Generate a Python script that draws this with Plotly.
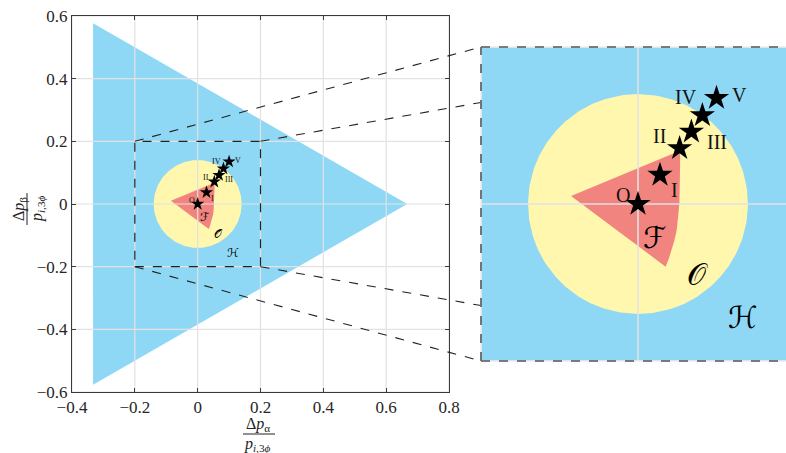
import numpy as np
import plotly.graph_objects as go

W, H = 786, 453

# Region H: the triangle of admissible perturbations
hex_x = [-0.333, -0.333, 0.667]
hex_y = [0.577, -0.577, 0.0]

# Region O: disc around the origin
disc_cx, disc_cy = 0.0, 0.0
disc_r = 0.14

# Region F: apex followed by the curved right-hand boundary
f_x = [-0.0853, 0.0535, 0.0537, 0.0535, 0.0527, 0.0510, 0.0493, 0.0465, 0.0429, 0.0393, 0.0352]
f_y = [0.0102, 0.0679, 0.0530, 0.0390, 0.0009, -0.0170, -0.0331, -0.0460, -0.0586, -0.0695, -0.0798]

# Operating points
pt_names = ["O", "I", "II", "III", "IV", "V"]
pt_x = [0.0, 0.028, 0.053, 0.068, 0.082, 0.100]
pt_y = [0.0, 0.037, 0.071, 0.092, 0.113, 0.135]

# Axis ticks
x_ticks = [-0.4, -0.2, 0.0, 0.2, 0.4, 0.6, 0.8]
x_ticktext = ["\u22120.4", "\u22120.2", "0", "0.2", "0.4", "0.6", "0.8"]
y_ticks = [-0.6, -0.4, -0.2, 0.0, 0.2, 0.4, 0.6]
y_ticktext = ["\u22120.6", "\u22120.4", "\u22120.2", "0", "0.2", "0.4", "0.6"]

# Zoom window
zoom_x = [-0.2, 0.2]
zoom_y = [-0.2, 0.2]

# Region labels (script letters) and where they sit
region_names = ["\u2131", "\U0001D4AA", "\u210B"]
region_main_x = [0.022, 0.066, 0.114]
region_main_y = [-0.040, -0.096, -0.157]
region_zoom_x = [0.022, 0.076, 0.134]
region_zoom_y = [-0.043, -0.090, -0.144]

BLUE = "#8ED8F6"
YELLOW = "#FFF7AE"
RED = "#F2847F"
GRID = "#E2E2E2"
AXC = "#3A3A3A"
SERIF = "Liberation Serif"
SCRIPT = "DejaVu Sans"

# ---- pixel layout of the two panels ----
main_px = dict(x0=72, x1=449, y0=16, y1=392)
zoom_px = dict(x0=481, y0=47, y1=361)


def dom_x(a, b):
    return [a / W, b / W]


def dom_y(top, bottom):
    return [(H - bottom) / H, (H - top) / H]


main_xr = [x_ticks[0], x_ticks[-1]]
main_yr = [y_ticks[0], y_ticks[-1]]
# zoom panel keeps equal scaling; it runs past the right edge of the figure
zoom_scale = (zoom_px["y1"] - zoom_px["y0"]) / (zoom_y[1] - zoom_y[0])
zoom_xr = [zoom_x[0], zoom_x[0] + (W - zoom_px["x0"]) / zoom_scale]

fig = go.Figure()

theta = np.linspace(0, 2 * np.pi, 241)
circ_x = disc_cx + disc_r * np.cos(theta)
circ_y = disc_cy + disc_r * np.sin(theta)

for xa, ya, gw, msize in [("x", "y", 1.2, 10), ("x2", "y2", 1.6, 19)]:
    fig.add_trace(go.Scatter(x=hex_x + [hex_x[0]], y=hex_y + [hex_y[0]], fill="toself",
                             fillcolor=BLUE, line=dict(width=0), mode="lines",
                             hoverinfo="skip", showlegend=False, xaxis=xa, yaxis=ya))
    fig.add_trace(go.Scatter(x=circ_x, y=circ_y, fill="toself", fillcolor=YELLOW,
                             line=dict(width=0), mode="lines", hoverinfo="skip",
                             showlegend=False, xaxis=xa, yaxis=ya))
    fig.add_trace(go.Scatter(x=f_x + [f_x[0]], y=f_y + [f_y[0]], fill="toself", fillcolor=RED,
                             line=dict(width=0), mode="lines", hoverinfo="skip",
                             showlegend=False, xaxis=xa, yaxis=ya))
    # grid lines drawn over the filled regions
    if xa == "x":
        gxv, gyv = x_ticks, y_ticks
        xr, yr = main_xr, main_yr
    else:
        gxv, gyv = [0.0], [0.0]
        xr, yr = zoom_xr, zoom_y
    gx, gy = [], []
    for v in gxv:
        gx += [v, v, None]
        gy += [yr[0], yr[1], None]
    for v in gyv:
        gx += [xr[0], xr[1], None]
        gy += [v, v, None]
    fig.add_trace(go.Scatter(x=gx, y=gy, mode="lines", line=dict(color=GRID, width=gw),
                             hoverinfo="skip", showlegend=False, xaxis=xa, yaxis=ya))
    fig.add_trace(go.Scatter(x=pt_x, y=pt_y, mode="markers",
                             marker=dict(symbol="star", size=msize, color="black",
                                         line=dict(width=0)),
                             hoverinfo="skip", showlegend=False, xaxis=xa, yaxis=ya))

# label offsets relative to each star (data units)
lab_dx = [-0.019, 0.019, -0.025, 0.032, -0.021, 0.029]
lab_dy = [0.012, -0.019, 0.015, -0.013, 0.023, 0.004]

annotations = []
for xa, ya, fs in [("x", "y", 8), ("x2", "y2", 20)]:
    for name, px, py, dx, dy in zip(pt_names, pt_x, pt_y, lab_dx, lab_dy):
        annotations.append(dict(x=px + dx, y=py + dy, xref=xa, yref=ya, text=name,
                                xanchor="center", yanchor="middle",
                                showarrow=False, font=dict(family=SERIF, size=fs, color="#111")))
for name, mx, my, zx, zy in zip(region_names, region_main_x, region_main_y,
                                region_zoom_x, region_zoom_y):
    annotations.append(dict(x=mx, y=my, xref="x", yref="y", text=name, showarrow=False,
                            xanchor="center", yanchor="middle",
                            font=dict(family=SCRIPT, size=12, color="black")))
    annotations.append(dict(x=zx, y=zy, xref="x2", yref="y2", text=name, showarrow=False,
                            xanchor="center", yanchor="middle",
                            font=dict(family=SCRIPT, size=30, color="black")))

# axis titles as stacked fractions
title_font = dict(family=SERIF, size=16, color="#222")
annotations += [
    dict(x=258 / W, y=(H - 424) / H, xref="paper", yref="paper", xanchor="center",
         yanchor="middle", text="\u0394<i>p</i><sub>\u03b1</sub>", showarrow=False,
         font=title_font),
    dict(x=257 / W, y=(H - 444) / H, xref="paper", yref="paper", xanchor="center",
         yanchor="middle", text="<i>p</i><sub><i>i</i>,3<i>\u03d5</i></sub>", showarrow=False,
         font=title_font),
    dict(x=19 / W, y=(H - 209) / H, xref="paper", yref="paper", textangle=-90,
         xanchor="center", yanchor="middle",
         text="\u0394<i>p</i><sub>\u03b2</sub>", showarrow=False, font=title_font),
    dict(x=37 / W, y=(H - 209) / H, xref="paper", yref="paper", textangle=-90,
         xanchor="center", yanchor="middle",
         text="<i>p</i><sub><i>i</i>,3<i>\u03d5</i></sub>", showarrow=False, font=title_font),
]

shapes = [
    dict(type="line", xref="paper", yref="paper", x0=243 / W, x1=275 / W,
         y0=(H - 434) / H, y1=(H - 434) / H, line=dict(color="#222", width=1)),
    dict(type="line", xref="paper", yref="paper", x0=27 / W, x1=27 / W,
         y0=(H - 193) / H, y1=(H - 225) / H, line=dict(color="#222", width=1)),
    # zoom window on the main panel
    dict(type="rect", xref="x", yref="y", x0=zoom_x[0], x1=zoom_x[1], y0=zoom_y[0], y1=zoom_y[1],
         line=dict(color="#222", width=1.2, dash="dash")),
]


# connectors from the zoom window corners to the zoom panel corners
def main_to_px(x, y):
    px = main_px["x0"] + (x - main_xr[0]) / (main_xr[1] - main_xr[0]) * (main_px["x1"] - main_px["x0"])
    py = main_px["y1"] - (y - main_yr[0]) / (main_yr[1] - main_yr[0]) * (main_px["y1"] - main_px["y0"])
    return px, py


def zoom_to_px(x, y):
    px = zoom_px["x0"] + (x - zoom_x[0]) * zoom_scale
    py = zoom_px["y1"] - (y - zoom_y[0]) * zoom_scale
    return px, py


for cx in zoom_x:
    for cy in zoom_y:
        ax_, ay_ = main_to_px(cx, cy)
        bx_, by_ = zoom_to_px(cx, cy)
        if bx_ > zoom_px["x0"]:
            t = (zoom_px["x0"] - ax_) / (bx_ - ax_)
            bx_, by_ = zoom_px["x0"], ay_ + t * (by_ - ay_)
        shapes.append(dict(type="line", xref="paper", yref="paper",
                           x0=ax_ / W, y0=(H - ay_) / H, x1=bx_ / W, y1=(H - by_) / H,
                           line=dict(color="#222", width=1.1, dash="dash")))

# dashed frame of the zoom panel (right side lies beyond the figure)
zx0 = zoom_px["x0"] / W
zt = (H - zoom_px["y0"]) / H
zb = (H - zoom_px["y1"]) / H
for (x0, y0, x1, y1) in [(zx0, zt, 1.0, zt), (zx0, zb, 1.0, zb), (zx0, zb, zx0, zt)]:
    shapes.append(dict(type="line", xref="paper", yref="paper", x0=x0, y0=y0, x1=x1, y1=y1,
                       line=dict(color="#EEEEEE", width=1.6)))
    shapes.append(dict(type="line", xref="paper", yref="paper", x0=x0, y0=y0, x1=x1, y1=y1,
                       line=dict(color="#555555", width=1.6, dash="dash")))

tick_font = dict(family=SERIF, size=17, color="#262626")
axis_common = dict(ticks="inside", ticklen=4, tickcolor=AXC, tickwidth=1, showline=True,
                   linecolor=AXC, linewidth=1, mirror="ticks", showgrid=False, zeroline=False,
                   layer="above traces", fixedrange=True, automargin=False)

fig.update_layout(
    width=W, height=H, margin=dict(l=0, r=0, t=0, b=0, pad=0, autoexpand=False),
    font=dict(family=SERIF, size=17, color="#262626"),
    paper_bgcolor="white", plot_bgcolor="white", showlegend=False,
    xaxis=dict(domain=dom_x(main_px["x0"], main_px["x1"]), range=main_xr, tickmode="array",
               tickvals=x_ticks, ticktext=x_ticktext, anchor="y", **axis_common),
    yaxis=dict(domain=dom_y(main_px["y0"], main_px["y1"]), range=main_yr, tickmode="array",
               tickvals=y_ticks, ticktext=y_ticktext, anchor="x", **axis_common),
    xaxis2=dict(domain=[zoom_px["x0"] / W, 1.0], range=zoom_xr, visible=False, anchor="y2",
                fixedrange=True),
    yaxis2=dict(domain=dom_y(zoom_px["y0"], zoom_px["y1"]), range=zoom_y, visible=False,
                anchor="x2", fixedrange=True),
    annotations=annotations, shapes=shapes,
)
fig.update_xaxes(tickfont=tick_font, selector=dict(anchor="y"))
fig.update_yaxes(tickfont=tick_font, selector=dict(anchor="x"))

fig.write_html("out.html", config={"responsive": False, "displayModeBar": False})
